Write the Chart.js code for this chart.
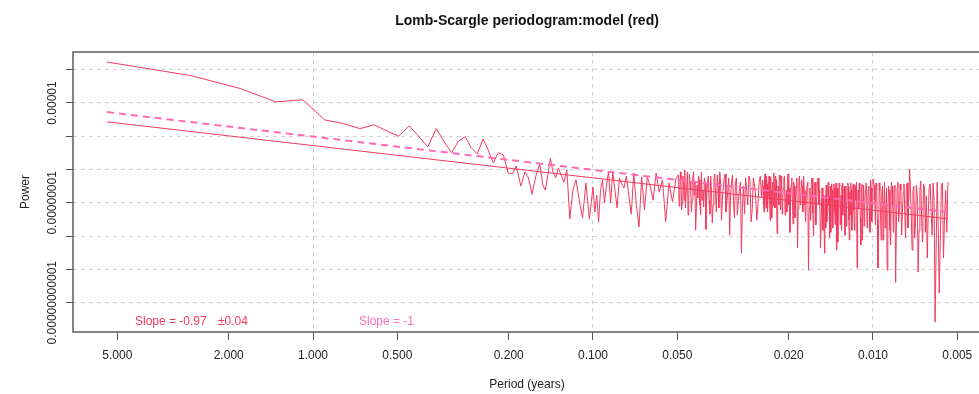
<!DOCTYPE html>
<html>
<head>
<meta charset="utf-8">
<title>Lomb-Scargle periodogram</title>
<script src="https://cdn.jsdelivr.net/npm/chart.js@4.4.1/dist/chart.umd.min.js"></script>
<style>
  html, body { margin: 0; padding: 0; background: #fff; overflow: hidden; }
  #marco { width: 979px; height: 394px; overflow: hidden; }
</style>
</head>
<body>
<div id="marco"><canvas id="grafica" width="981" height="394"></canvas></div>
<script>
// periods (years)
const periods = [
  5.44, 2.72, 1.813, 1.36, 1.088, 0.907, 0.777, 0.68, 0.604, 0.544,
  0.495, 0.453, 0.418, 0.389, 0.363, 0.34, 0.32, 0.302, 0.286, 0.272,
  0.259, 0.247, 0.237, 0.227, 0.218, 0.209, 0.201, 0.194, 0.188, 0.181,
  0.175, 0.17, 0.165, 0.16, 0.155, 0.151,
  0.148, 0.145, 0.142, 0.139, 0.136, 0.133, 0.13, 0.127, 0.124, 0.121,
  0.118, 0.115, 0.112, 0.109, 0.106, 0.103, 0.1,
  0.0985, 0.097, 0.0955, 0.094, 0.0925, 0.091, 0.0895, 0.088, 0.0865, 0.085,
  0.0835, 0.082, 0.0805, 0.079, 0.0775, 0.076, 0.0745, 0.073, 0.0715, 0.07,
  0.0685, 0.067, 0.0655, 0.064, 0.0625, 0.061, 0.0595, 0.058, 0.0565, 0.055,
  0.0535, 0.052, 0.0505,
  0.0495, 0.04925, 0.049, 0.04875, 0.0485, 0.04825, 0.048, 0.04775, 0.0475, 0.04725,
  0.047, 0.04675, 0.0465, 0.04625, 0.046, 0.04575, 0.0455, 0.04525, 0.045, 0.04475,
  0.0445, 0.04425, 0.044, 0.04375, 0.0435, 0.04325, 0.043, 0.04275, 0.0425, 0.04225,
  0.042, 0.04175, 0.0415, 0.04125, 0.041, 0.04075, 0.0405, 0.04025, 0.04, 0.03975,
  0.0395, 0.03925, 0.039, 0.03875, 0.0385, 0.03825, 0.038, 0.03775, 0.0375, 0.03725,
  0.037, 0.03675, 0.0365, 0.03625, 0.036, 0.03575, 0.0355, 0.03525, 0.035, 0.03475,
  0.0345, 0.03425, 0.034, 0.03375, 0.0335, 0.03325, 0.033, 0.03275, 0.0325, 0.03225,
  0.032, 0.03175, 0.0315, 0.03125, 0.031, 0.03075, 0.0305, 0.03025, 0.03, 0.02975,
  0.0295, 0.02925, 0.029, 0.02875, 0.0285, 0.02825, 0.028, 0.02775, 0.0275, 0.02725,
  0.027, 0.02675, 0.0265, 0.02625, 0.026, 0.02575, 0.0255, 0.02525, 0.025,
  0.0248, 0.0247, 0.0246, 0.0245, 0.0244, 0.0243, 0.0242, 0.0241, 0.024, 0.0239,
  0.0238, 0.0237, 0.0236, 0.0235, 0.0234, 0.0233, 0.0232, 0.0231, 0.023, 0.0229,
  0.0228, 0.0227, 0.0226, 0.0225, 0.0224, 0.0223, 0.0222, 0.0221, 0.022, 0.0219,
  0.0218, 0.0217, 0.0216, 0.0215, 0.0214, 0.0213, 0.0212, 0.0211, 0.021, 0.0209,
  0.0208, 0.0207, 0.0206, 0.0205, 0.0204, 0.0203, 0.0202, 0.0201, 0.02, 0.0199,
  0.0198, 0.0197, 0.0196, 0.0195, 0.0194, 0.0193, 0.0192, 0.0191, 0.019, 0.0189,
  0.0188, 0.0187, 0.0186, 0.0185, 0.0184, 0.0183, 0.0182, 0.0181, 0.018, 0.0179,
  0.0178, 0.0177, 0.0176, 0.0175, 0.0174, 0.0173, 0.0172, 0.0171, 0.017, 0.0169,
  0.0168, 0.0167, 0.0166, 0.0165, 0.0164, 0.0163, 0.0162, 0.0161, 0.016, 0.0159,
  0.0158, 0.0157, 0.0156, 0.0155, 0.0154, 0.0153, 0.0152, 0.0151, 0.015,
  0.0149, 0.01485, 0.0148, 0.01475, 0.0147, 0.01465, 0.0146, 0.01455, 0.0145, 0.01445,
  0.0144, 0.01435, 0.0143, 0.01425, 0.0142, 0.01415, 0.0141, 0.01405, 0.014, 0.01395,
  0.0139, 0.01385, 0.0138, 0.01375, 0.0137, 0.01365, 0.0136, 0.01355, 0.0135, 0.01345,
  0.0134, 0.01335, 0.0133, 0.01325, 0.0132, 0.01315, 0.0131, 0.01305, 0.013, 0.01295,
  0.0129, 0.01285, 0.0128, 0.01275, 0.0127, 0.01265, 0.0126, 0.01255, 0.0125, 0.01245,
  0.0124, 0.01235, 0.0123, 0.01225, 0.0122, 0.01215, 0.0121, 0.01205, 0.012, 0.01195,
  0.0119, 0.01185, 0.0118, 0.01175, 0.0117, 0.01165, 0.0116, 0.01155, 0.0115, 0.01145,
  0.0114, 0.01135, 0.0113, 0.01125, 0.0112, 0.01115, 0.0111, 0.01105, 0.011, 0.01095,
  0.0109, 0.01085, 0.0108, 0.01075, 0.0107, 0.01065, 0.0106, 0.01055, 0.0105, 0.01045,
  0.0104, 0.01035, 0.0103, 0.01025, 0.0102, 0.01015, 0.0101, 0.01005, 0.01,
  0.0099, 0.00985, 0.0098, 0.00975, 0.0097, 0.00965, 0.0096, 0.00955, 0.0095, 0.00945,
  0.0094, 0.00935, 0.0093, 0.00925, 0.0092, 0.00915, 0.0091, 0.00905, 0.009, 0.00895,
  0.0089, 0.00885, 0.0088, 0.00875, 0.0087, 0.00865, 0.0086, 0.00855, 0.0085, 0.00845,
  0.0084, 0.00835, 0.0083, 0.00825, 0.0082, 0.00815, 0.0081, 0.00805, 0.008, 0.00795,
  0.0079, 0.00785, 0.0078, 0.00775, 0.0077, 0.00765, 0.0076, 0.00755, 0.0075, 0.00745,
  0.0074, 0.00735, 0.0073, 0.00725, 0.0072, 0.00715, 0.0071, 0.00705, 0.007, 0.00695,
  0.0069, 0.00685, 0.0068, 0.00675, 0.0067, 0.00665, 0.0066, 0.00655, 0.0065, 0.00645,
  0.0064, 0.00635, 0.0063, 0.00625, 0.0062, 0.00615, 0.0061, 0.00605, 0.006, 0.00595,
  0.0059, 0.00585, 0.0058, 0.00575, 0.0057, 0.00565, 0.0056, 0.00555, 0.0055, 0.00545,
  0.0054
];

// periodogram power of the model (red)
const power = [
  1.7e-4, 6.6e-5, 2.7e-5, 1.08e-5, 1.25e-5, 3.1e-6, 2.4e-6, 1.7e-6, 2.2e-6, 1.45e-6,
  1.0e-6, 2.05e-6, 9.6e-7, 4.8e-7, 1.7e-6, 6.8e-7, 3.2e-7, 7.3e-7, 9.6e-7, 4.5e-7,
  2.95e-7, 8.3e-7, 3.9e-7, 1.6e-7, 3.2e-7, 2.75e-7, 7.9e-8, 7.4e-8, 1.28e-7, 3.2e-8,
  8.5e-8, 5.6e-8, 1.8e-8, 6.4e-8, 1.47e-7, 3.4e-8,
  2.4e-8, 6.9e-8, 2.2e-7, 8.5e-8, 5.6e-8, 1.12e-7, 6.9e-8, 4.2e-8, 9.7e-8, 3.3e-9,
  2.4e-8, 4.9e-8, 1.2e-8, 3.5e-9, 3.95e-8, 3.3e-9, 3.0e-8,
  5.3e-9, 1.7e-8, 2.7e-9, 2.4e-8, 4.9e-8, 9.9e-9, 3.4e-8, 8.5e-8, 9.9e-9, 8.5e-8,
  2.4e-8, 7.0e-9, 5.6e-8, 3.7e-8, 2.8e-8, 6.4e-8, 1.7e-8, 4.6e-9, 7.9e-8, 8.6e-9,
  1.9e-9, 6.0e-8, 6.1e-9, 6.0e-8, 3.2e-8, 1.2e-8, 7.9e-8, 2.1e-8, 4.9e-8, 2.7e-9,
  3.95e-8, 1.06e-8, 5.6e-8,
  6.9e-8, 8.0e-9, 1.4e-8, 8.5e-8, 4.9e-8, 6.1e-9, 9.9e-9, 6.4e-8, 3.4e-8, 1.2e-8,
  9.7e-8, 7.0e-9, 2.1e-8, 3.2e-8, 8.5e-8, 4.3e-9, 1.2e-8, 7.4e-8, 4.2e-8, 2.4e-8,
  5.3e-9, 1.2e-8, 5.6e-8, 8.5e-8, 1.7e-8, 4.2e-8, 1.5e-9, 6.1e-9, 3.4e-8, 1.4e-8,
  6.4e-8, 4.9e-8, 8.6e-9, 4.3e-9, 8.5e-8, 1.2e-8, 2.4e-8, 7.5e-9, 5.6e-8, 3.7e-8,
  1.6e-9, 1.6e-8, 3.95e-8, 6.4e-8, 1.2e-8, 4.6e-9, 6.4e-8, 2.4e-8, 2.5e-9, 8.6e-9,
  4.9e-8, 7.4e-8, 1.7e-8, 5.3e-9, 6.9e-8, 3.95e-8, 7.0e-9, 8.5e-8, 3.4e-8, 3.0e-9,
  1.4e-8, 2.8e-8, 5.6e-8, 7.4e-8, 5.3e-9, 9.9e-9, 2.4e-8, 5.6e-8, 1.07e-9, 1.6e-8,
  4.2e-8, 6.9e-8, 1.2e-8, 3.5e-9, 3.7e-8, 5.6e-8, 4.3e-9, 1.2e-8, 2.4e-8, 4.2e-8,
  3.1e-10, 8.6e-9, 3.2e-8, 4.6e-9, 5.6e-8, 2.4e-8, 8.6e-9, 6.4e-8, 4.9e-8, 2.7e-9,
  6.1e-9, 5.6e-8, 3.4e-8, 1.6e-8, 3.0e-9, 8.6e-9, 4.2e-8, 6.4e-8, 1.4e-8,
  4.9e-8, 3.2e-8, 8.6e-9, 5.3e-9, 5.6e-8, 7.4e-8, 1.7e-8, 7.0e-9, 6.4e-8, 3.7e-8,
  5.3e-9, 1.6e-8, 3.4e-8, 6.4e-8, 1.2e-8, 3.0e-9, 6.0e-8, 2.4e-8, 3.5e-9, 1.2e-8,
  4.2e-8, 8.0e-9, 7.9e-8, 3.4e-8, 7.0e-9, 6.4e-8, 4.9e-8, 1.2e-8, 1.2e-9, 6.1e-9,
  3.2e-8, 8.6e-9, 6.9e-8, 4.9e-8, 6.1e-9, 6.4e-8, 3.95e-8, 4.6e-9, 1.4e-8, 2.8e-8,
  5.6e-8, 6.4e-8, 4.3e-9, 1.4e-8, 2.4e-8, 5.3e-9, 4.9e-8, 7.4e-8, 8.6e-9, 2.8e-8,
  1.3e-9, 9.9e-9, 3.4e-8, 5.6e-8, 1.2e-8, 2.3e-9, 4.2e-8, 3.2e-8, 3.5e-9, 1.2e-8,
  2.8e-8, 5.6e-8, 4.4e-10, 6.5e-9, 3.7e-8, 6.4e-8, 8.6e-9, 1.6e-8, 4.9e-8, 3.2e-8,
  5.3e-9, 6.4e-8, 2.4e-8, 8.6e-9, 2.7e-9, 1.5e-8, 3.4e-8, 4.2e-8, 9.5e-11, 7.0e-9,
  2.8e-8, 3.0e-9, 4.2e-8, 5.6e-8, 5.0e-9, 1.0e-9, 3.2e-8, 4.2e-8, 2.2e-9, 9.9e-9,
  3.7e-8, 5.6e-8, 8.6e-9, 2.4e-8, 4.4e-10, 4.3e-9, 2.8e-8, 1.5e-9, 1.7e-8,
  3.1e-10, 6.1e-9, 1.7e-8, 1.75e-9, 3.4e-8, 2.4e-8, 2.7e-9, 5.3e-9, 2.4e-8, 4.2e-8,
  8.6e-9, 1.6e-8, 8.7e-10, 3.5e-9, 3.2e-8, 1.3e-9, 1.2e-8, 3.7e-8, 2.4e-8, 9.9e-9,
  1.75e-9, 1.6e-8, 3.7e-8, 2.8e-8, 5.3e-9, 2.2e-9, 2.1e-8, 3.95e-8, 3.8e-10, 4.6e-9,
  2.8e-8, 6.6e-10, 8.6e-9, 2.1e-8, 3.95e-8, 3.2e-8, 2.2e-9, 6.1e-9, 1.7e-8, 1.5e-9,
  3.4e-8, 3.95e-8, 4.3e-9, 8.6e-9, 2.4e-8, 3.2e-8, 1.07e-9, 6.1e-9, 3.2e-8, 2.0e-9,
  7.0e-9, 1.8e-8, 3.95e-8, 3.0e-8, 3.0e-9, 7.6e-10, 2.1e-8, 4.3e-9, 3.95e-8, 2.4e-8,
  1.5e-9, 5.3e-9, 2.8e-8, 3.7e-8, 6.1e-9, 1.5e-9, 3.4e-8, 2.8e-8, 1.2e-8, 4.2e-8,
  1.1e-10, 3.0e-9, 2.4e-8, 7.0e-9, 3.95e-8, 2.1e-8, 3.5e-9, 5.4e-10, 2.8e-8, 3.7e-8,
  7.6e-10, 1.2e-8, 3.4e-8, 2.0e-9, 8.6e-9, 2.4e-8, 3.95e-8, 3.4e-8, 1.75e-9, 5.3e-9,
  2.4e-8, 3.2e-8, 5.3e-9, 1.3e-9, 4.9e-8, 2.8e-8, 2.7e-9, 8.6e-9, 5.2e-8,
  3.4e-8, 1.2e-8, 2.2e-9, 3.95e-8, 2.4e-8, 3.0e-9, 1.1e-10, 1.07e-9, 3.95e-8, 2.4e-8,
  4.3e-9, 7.6e-10, 2.1e-8, 3.2e-8, 7.6e-10, 6.1e-9, 4.2e-8, 1.75e-9, 6.1e-9, 2.8e-8,
  9.5e-11, 4.3e-9, 3.2e-8, 2.4e-8, 1.5e-9, 5.4e-10, 4.2e-8, 3.2e-8, 8.6e-9, 1.3e-9,
  2.4e-8, 3.4e-8, 4.1e-11, 2.0e-9, 2.8e-8, 4.2e-8, 2.7e-9, 6.1e-9, 3.7e-8, 2.4e-8,
  1.07e-9, 5.3e-9, 2.1e-8, 3.7e-8, 5.3e-9, 8.7e-10, 3.2e-8, 3.95e-8, 1.75e-9, 1.2e-8,
  1.04e-7, 2.8e-8, 4.3e-9, 3.8e-10, 2.1e-8, 3.2e-8, 8.7e-10, 2.7e-9, 3.4e-8, 1.7e-8,
  8.3e-11, 1.5e-9, 2.4e-8, 4.5e-8, 3.0e-9, 6.6e-10, 3.7e-8, 3.0e-8, 1.3e-9, 1.6e-8,
  2.2e-10, 4.3e-9, 2.8e-8, 3.7e-8, 5.3e-9, 1.07e-9, 3.95e-8, 1.2e-8, 2.6e-12, 3.8e-10,
  4.2e-8, 2.2e-9, 1.95e-11, 7.6e-10, 3.2e-8, 3.95e-8, 2.2e-10, 4.3e-9, 2.4e-8, 1.3e-9,
  4.2e-8
];

// fitted line (log10 power = intercept + slope * log10 period) and the reference slope -1
const fitSlope = 0.97;
const fitIntercept = -6.28;
const refSlope = 1;
const refIntercept = -6.01;

const xTicks = [5, 2, 1, 0.5, 0.2, 0.1, 0.05, 0.02, 0.01, 0.005];
const xGridLines = [1, 0.1, 0.01];
const yTicks = [1e-4, 1e-5, 1e-6, 1e-7, 1e-8, 1e-9, 1e-10, 1e-11];
const yLabelValues = [1e-5, 1e-8, 1e-11];
const yTickLabels = ['0.00001', '0.00000001', '0.00000000001'];

const ROJO = '#f23a5e';
const ROSA = '#ff69b4';
const GRIS = '#d4d4d4';
const FUENTE = "'Liberation Sans', Arial, Helvetica, sans-serif";

Chart.defaults.font.family = FUENTE;

function lineaAjuste(intercept, slope) {
  const ends = [periods[0], periods[periods.length - 1]];
  return ends.map(p => ({ x: p, y: Math.pow(10, intercept + slope * Math.log10(p)) }));
}

const textos = {
  id: 'textos',
  afterDatasetsDraw(chart) {
    const { ctx, chartArea: a, scales: { y } } = chart;
    ctx.save();
    // box around the plot
    ctx.strokeStyle = '#5c5c5c';
    ctx.lineWidth = 1.5;
    ctx.strokeRect(a.left, a.top, a.right - a.left, a.bottom - a.top);

    // y tick labels, parallel to the axis
    ctx.fillStyle = '#222';
    ctx.font = '12px ' + FUENTE;
    ctx.textAlign = 'center';
    ctx.textBaseline = 'middle';
    yLabelValues.forEach((v, i) => {
      ctx.save();
      ctx.translate(a.left - 20, y.getPixelForValue(v));
      ctx.rotate(-Math.PI / 2);
      ctx.fillText(yTickLabels[i], 0, 0);
      ctx.restore();
    });

    // main title
    ctx.fillStyle = '#111';
    ctx.font = 'bold 14px ' + FUENTE;
    ctx.fillText('Lomb-Scargle periodogram:model (red)', (a.left + a.right) / 2, 21);

    // slope notes
    ctx.font = '12px ' + FUENTE;
    ctx.textAlign = 'left';
    ctx.fillStyle = ROJO;
    ctx.fillText('Slope = -0.97', a.left + 62, a.bottom - 10);
    ctx.fillText('\u00b10.04', a.left + 145, a.bottom - 10);
    ctx.fillStyle = '#ff6fb5';
    ctx.fillText('Slope = -1', a.left + 286, a.bottom - 10);
    ctx.restore();
  }
};

new Chart(document.getElementById('grafica'), {
  type: 'line',
  data: {
    datasets: [
      {
        label: 'Slope = -1',
        data: lineaAjuste(refIntercept, refSlope),
        borderColor: ROSA,
        borderWidth: 2,
        borderDash: [7, 5],
        pointRadius: 0,
        order: 0
      },
      {
        label: 'Slope = -0.97',
        data: lineaAjuste(fitIntercept, fitSlope),
        borderColor: ROJO,
        borderWidth: 1,
        pointRadius: 0,
        order: 1
      },
      {
        label: 'model',
        data: periods.map((p, i) => ({ x: p, y: power[i] })),
        borderColor: ROJO,
        borderWidth: 1,
        pointRadius: 0,
        tension: 0,
        order: 2
      }
    ]
  },
  options: {
    responsive: false,
    animation: false,
    devicePixelRatio: 1,
    layout: { padding: { top: 52, left: 0, right: 0, bottom: 0 } },
    plugins: {
      legend: { display: false },
      tooltip: { enabled: false },
      title: { display: false }
    },
    scales: {
      x: {
        type: 'logarithmic',
        reverse: true,
        min: 0.004114,
        max: 7.197,
        afterBuildTicks: s => { s.ticks = xTicks.map(v => ({ value: v })); },
        afterFit: s => { s.height = 62; },
        ticks: {
          autoSkip: false,
          maxRotation: 0,
          minRotation: 0,
          padding: 8,
          color: '#222',
          font: { size: 12 },
          callback: v => Number(v).toFixed(3)
        },
        grid: {
          color: c => (c.tick && xGridLines.includes(c.tick.value)) ? GRIS : 'rgba(0,0,0,0)',
          lineWidth: 1,
          tickColor: '#555',
          tickLength: 8
        },
        border: { display: false, dash: [4, 4] },
        title: {
          display: true,
          text: 'Period (years)',
          color: '#222',
          font: { size: 12 },
          padding: { top: 0, bottom: 2 }
        }
      },
      y: {
        type: 'logarithmic',
        min: 1.32e-12,
        max: 3.40e-4,
        afterBuildTicks: s => { s.ticks = yTicks.map(v => ({ value: v })); },
        afterFit: s => { s.width = 73; },
        ticks: { display: false },
        grid: {
          color: GRIS,
          lineWidth: 1,
          tickColor: '#555',
          tickLength: 7
        },
        border: { display: false, dash: [4, 4] },
        title: {
          display: true,
          text: 'Power',
          color: '#222',
          font: { size: 12 },
          padding: { top: 18, bottom: 0 }
        }
      }
    }
  },
  plugins: [textos]
});
</script>
</body>
</html>
